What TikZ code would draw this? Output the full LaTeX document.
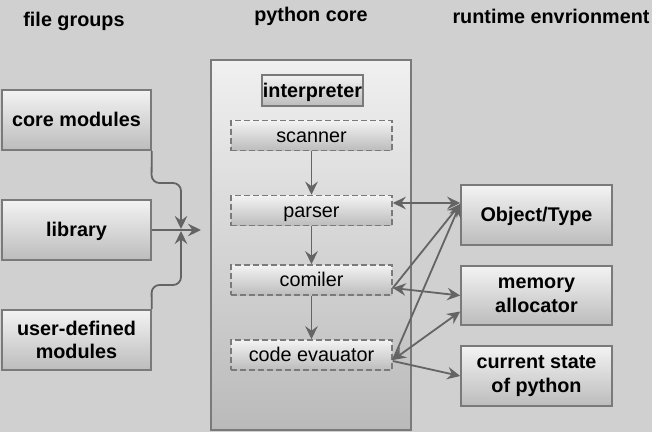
\documentclass[tikz,border=0pt]{standalone}
\usepackage{fontspec}
\setmainfont{Liberation Sans}
\usetikzlibrary{arrows.meta}
\definecolor{bgc}{RGB}{208,208,208}
\definecolor{bordc}{RGB}{122,122,122}
\definecolor{linec}{RGB}{100,100,100}
\definecolor{topc}{RGB}{243,243,243}
\definecolor{botc}{RGB}{188,188,188}
\tikzset{
  boxbase/.style={draw=bordc, line width=1.6pt, top color=topc, bottom color=botc, inner sep=0pt, align=center, text=black},
  solidbox/.style={boxbase, minimum width=149pt, minimum height=60pt, font=\fontsize{19.8}{23.5}\selectfont\bfseries},
  oneline/.style={text height=15pt, text depth=2pt},
  dashbox/.style={boxbase, oneline, dash pattern=on 6pt off 3pt, minimum width=161pt, minimum height=30pt, font=\fontsize{19.8}{23}\selectfont},
  heading/.style={font=\fontsize{19.8}{23}\selectfont\bfseries, inner sep=0pt},
  tipstyle/.style={},
  conn/.style={draw=linec, line width=1.8pt, -{Stealth[length=13pt,width=12.5pt,inset=4.5pt]}},
  bconn/.style={draw=linec, line width=1.8pt, {Stealth[length=13pt,width=12.5pt,inset=4.5pt]}-{Stealth[length=13pt,width=12.5pt,inset=4.5pt]}}
}
\begin{document}
\begin{tikzpicture}[x=1pt,y=-1pt]
\fill[bgc] (0,0) rectangle (652,432);
\useasboundingbox (0,0) rectangle (652,432);

% headings
\node[heading] (h1) at (74,21) {file groups};
\node[heading] (h2) at (311,16) {python core};
\node[heading] (h3) at (551,16) {runtime envrionment};

% python core container
\node[boxbase, minimum width=200pt, minimum height=370pt, top color={rgb,255:red,240;green,240;blue,240}, bottom color={rgb,255:red,186;green,186;blue,186}] (core) at (311,245) {};

% interpreter
\node[boxbase, oneline, minimum width=101pt, minimum height=31pt, font=\fontsize{19.8}{23}\selectfont\bfseries] (interp) at (312.5,90.5) {interpreter};

% inner stages
\node[dashbox] (scanner) at (311.5,135.5) {scanner};
\node[dashbox] (parser) at (311.5,210.5) {parser};
\node[dashbox] (comiler) at (311.5,280) {comiler};
\node[dashbox] (evaluator) at (311.5,355) {code evauator};

% file groups
\node[solidbox, oneline] (coremod) at (76.5,120) {core modules};
\node[solidbox, oneline] (library) at (76.5,230) {library};
\node[solidbox] (userdef) at (76.5,340) {user-defined\\modules};

% runtime environment
\node[solidbox, oneline, minimum width=151pt] (objtype) at (536.5,215) {Object/Type};
\node[solidbox, minimum width=151pt, minimum height=59pt] (memory) at (536.5,295.5) {memory\\allocator};
\node[solidbox, minimum width=151pt] (state) at (536.5,376) {current state\\of python};

% file group connectors
\coordinate (merge) at (201,230);
\draw[conn, rounded corners=8pt] (coremod.south east) -- (151.5,183) -- (181,183) -- (181,229);
\draw[conn] (library.east) -- (merge);
\draw[conn, rounded corners=8pt] (userdef.north east) -- (151.5,285) -- (181,285) -- (181,231);

% pipeline
\draw[conn] (scanner) -- (parser);
\draw[conn] (parser) -- (comiler);
\draw[conn] (comiler) -- (evaluator);

% runtime connectors
\draw[bconn] ([yshift=7.5pt]parser.east) -- ([yshift=12pt]objtype.west);
\draw[conn] ([yshift=-8pt]comiler.east) -- ([yshift=11pt]objtype.west);
\draw[conn] ([yshift=-5pt]evaluator.east) -- ([yshift=11pt]objtype.west);
\draw[bconn] ([yshift=-8pt]comiler.east) -- (memory.west);
\draw[bconn] ([yshift=-5pt]evaluator.east) -- ([yshift=-16pt]memory.west);
\draw[conn] ([yshift=-6pt]evaluator.east) -- (state.west);
\end{tikzpicture}
\end{document}
